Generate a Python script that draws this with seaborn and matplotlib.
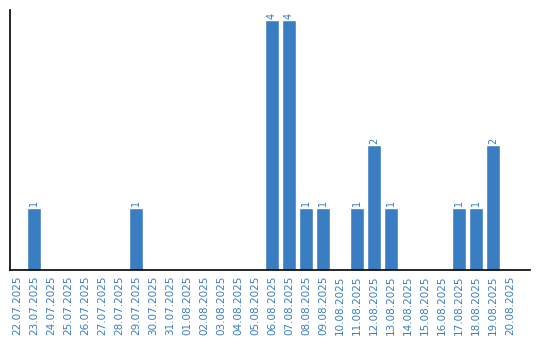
import matplotlib
matplotlib.use("Agg")
import matplotlib.pyplot as plt
import seaborn as sns
import pandas as pd

dates = ["22.07.2025", "23.07.2025", "24.07.2025", "25.07.2025", "26.07.2025",
         "27.07.2025", "28.07.2025", "29.07.2025", "30.07.2025", "31.07.2025",
         "01.08.2025", "02.08.2025", "03.08.2025", "04.08.2025", "05.08.2025",
         "06.08.2025", "07.08.2025", "08.08.2025", "09.08.2025", "10.08.2025",
         "11.08.2025", "12.08.2025", "13.08.2025", "14.08.2025", "15.08.2025",
         "16.08.2025", "17.08.2025", "18.08.2025", "19.08.2025", "20.08.2025"]
counts = [0, 1, 0, 0, 0, 0, 0, 1, 0, 0,
          0, 0, 0, 0, 0, 4, 4, 1, 1, 0,
          1, 2, 1, 0, 0, 0, 1, 1, 2, 0]

BLUE = "#3b7dc2"
sns.set_theme(style="white")
plt.rcParams['font.family'] = ['DejaVu Sans']

df = pd.DataFrame({"date": dates, "count": counts})
fig = plt.figure(figsize=(5.4, 3.4), dpi=100)
ax = fig.add_axes([10/540, 70/340, 520/540, 260/340])
sns.barplot(data=df, x="date", y="count", color=BLUE, saturation=1, width=0.82, ax=ax)

for c in ax.containers:
    labels = [str(int(v)) if v > 0 else "" for v in c.datavalues]
    ax.bar_label(c, labels=labels, rotation=90, color=BLUE, fontsize=7, padding=1)

ax.set_xlim(-0.42, 30.18)
ax.set_ylim(0, 4.16)
ax.set_xlabel("")
ax.set_ylabel("")
ax.set_yticks([])
ax.tick_params(axis="x", length=0, pad=4, labelsize=7.5, labelcolor=BLUE, rotation=90)
for s in ["top", "right"]:
    ax.spines[s].set_visible(False)
for s in ["left", "bottom"]:
    ax.spines[s].set_color("black")
    ax.spines[s].set_linewidth(1.2)

fig.savefig("out.png", dpi=100)
